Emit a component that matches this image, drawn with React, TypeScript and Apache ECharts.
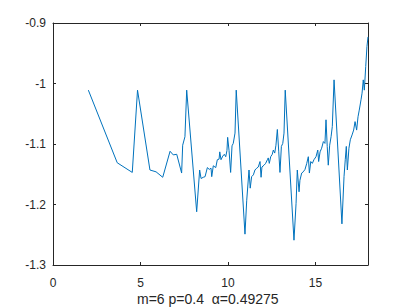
import React, { useEffect, useRef } from "react";
import * as echarts from "echarts";

const xs = [
  2.02, 3.67, 4.53, 4.83, 5.54, 5.89, 6.27, 6.69, 6.87, 7.07, 7.35, 7.41, 7.54, 7.64, 8.21,
  8.38, 8.46, 8.59, 8.69, 8.82, 8.93, 9.03, 9.07, 9.16, 9.30, 9.39, 9.49, 9.53, 9.60, 9.70,
  9.79, 9.87, 9.94, 9.98, 10.06, 10.15, 10.23, 10.30, 10.40, 10.47, 10.97, 11.07, 11.20, 11.27,
  11.35, 11.45, 11.54, 11.64, 11.73, 11.83, 11.89, 11.94, 12.06, 12.15, 12.25, 12.30, 12.36,
  12.44, 12.53, 12.59, 12.67, 12.74, 12.82, 12.90, 12.97, 13.05, 13.13, 13.20, 13.27, 13.77,
  13.89, 13.96, 14.06, 14.11, 14.21, 14.30, 14.40, 14.50, 14.59, 14.65, 14.73, 14.82, 14.91,
  15.03, 15.13, 15.18, 15.26, 15.35, 15.45, 15.54, 15.60, 15.67, 15.73, 15.81, 15.89, 15.96,
  16.06, 16.51, 16.63, 16.70, 16.76, 16.82, 16.91, 16.99, 17.09, 17.18, 17.26, 17.35, 17.43,
  17.50, 17.60, 17.66, 17.73, 17.79, 17.87, 17.94, 18.0,
];
const ys = [
  -1.011, -1.131, -1.147, -1.011, -1.143, -1.146, -1.155, -1.112, -1.118, -1.117, -1.148, -1.102, -1.088, -1.011, -1.212,
  -1.143, -1.157, -1.155, -1.154, -1.139, -1.142, -1.140, -1.154, -1.136, -1.139, -1.126, -1.125, -1.113, -1.126, -1.120,
  -1.117, -1.121, -1.111, -1.089, -1.111, -1.147, -1.103, -1.099, -1.082, -1.011, -1.249, -1.193, -1.143, -1.173,
  -1.154, -1.151, -1.143, -1.140, -1.138, -1.129, -1.155, -1.138, -1.135, -1.132, -1.126, -1.123, -1.132,
  -1.121, -1.117, -1.110, -1.115, -1.102, -1.076, -1.113, -1.147, -1.104, -1.099, -1.082, -1.011, -1.259,
  -1.198, -1.143, -1.179, -1.160, -1.148, -1.146, -1.142, -1.132, -1.121, -1.148, -1.129, -1.132, -1.126,
  -1.121, -1.110, -1.129, -1.113, -1.107, -1.096, -1.099, -1.060, -1.104, -1.135, -1.102, -1.088, -1.071,
  -0.994, -1.232, -1.154, -1.126, -1.104, -1.143, -1.107, -1.093, -1.085, -1.077, -1.063, -1.077, -1.055,
  -1.044, -1.027, -1.016, -0.994, -1.011, -0.972, -0.939, -0.923,
];

const xTickLabels = ["0", "5", "10", "15"];
const xLabelText = "m=6 p=0.4  \u03b1=0.49275";

const AXIS_COLOR = "#262626";
const FONT = "'Liberation Sans', Arial, Helvetica, sans-serif";

export default function App() {
  const ref = useRef<HTMLDivElement>(null);
  useEffect(() => {
    if (!ref.current) return;
    const chart = echarts.init(ref.current, undefined, { renderer: "svg" });
    const data = xs.map((x, i) => [x, ys[i]]);
    const xAxisBase = {
      type: "value",
      min: 0,
      max: 18,
      interval: 5,
      splitLine: { show: false },
      axisLine: { show: true, onZero: false, lineStyle: { color: AXIS_COLOR, width: 1 } },
      axisTick: { show: true, inside: true, length: 3, lineStyle: { color: AXIS_COLOR } },
    };
    const yAxisBase = {
      type: "value",
      min: -1.3,
      max: -0.9,
      interval: 0.1,
      splitLine: { show: false },
      axisLine: { show: true, onZero: false, lineStyle: { color: AXIS_COLOR, width: 1 } },
      axisTick: { show: true, inside: true, length: 3, lineStyle: { color: AXIS_COLOR } },
    };
    chart.setOption({
      animation: false,
      backgroundColor: "#ffffff",
      grid: { left: 53, right: 39, top: 23, bottom: 43, outerBoundsMode: "none" },
      xAxis: [
        {
          ...xAxisBase,
          position: "bottom",
          axisLabel: {
            color: AXIS_COLOR,
            fontFamily: FONT,
            fontSize: 12,
            margin: 12,
            formatter: (v: number) => {
              const s = String(v);
              return xTickLabels.includes(s) ? s : "";
            },
          },
        },
        { ...xAxisBase, position: "top", axisLabel: { show: false } },
      ],
      yAxis: [
        {
          ...yAxisBase,
          position: "left",
          axisLabel: {
            color: AXIS_COLOR,
            fontFamily: FONT,
            fontSize: 12,
            margin: 7,
            formatter: (v: number) => String(parseFloat(v.toFixed(1))),
          },
        },
        { ...yAxisBase, position: "right", axisLabel: { show: false } },
      ],
      graphic: [
        {
          type: "text",
          left: 137,
          top: 292,
          style: {
            text: xLabelText,
            fill: AXIS_COLOR,
            font: `14px ${FONT}`,
          },
        },
      ],
      series: [
        {
          type: "line",
          data,
          xAxisIndex: 0,
          yAxisIndex: 0,
          showSymbol: false,
          symbol: "none",
          lineStyle: { color: "#0072BD", width: 1 },
        },
      ],
    });
    return () => chart.dispose();
  }, []);
  return (
    <div
      ref={ref}
      style={{ position: "fixed", left: 0, top: 0, width: 407, height: 308 }}
    />
  );
}
